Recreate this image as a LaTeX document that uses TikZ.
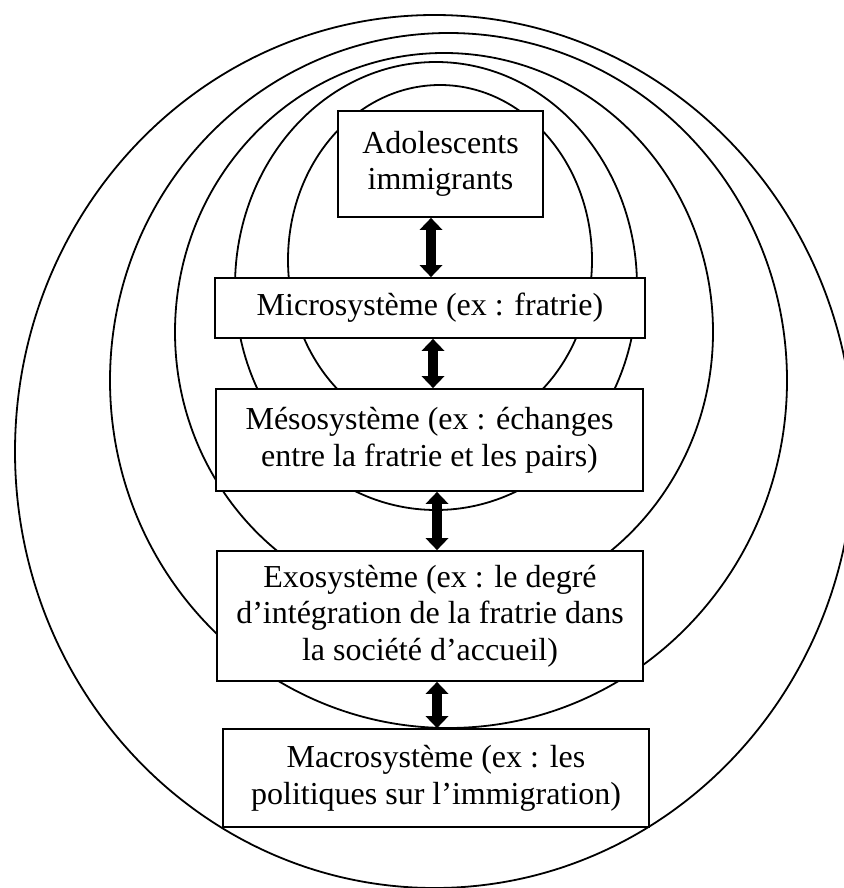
\documentclass[tikz,border=0pt]{standalone}
\usepackage{fontspec}
\setmainfont{Liberation Serif}
\usetikzlibrary{arrows.meta}
\begin{document}
\begin{tikzpicture}[x=0.75pt,y=-0.75pt,
    every node/.style={font=\fontsize{24}{27.5}\selectfont},
    ring/.style={line width=1.35pt},
    level/.style={draw,line width=1.35pt,fill=white,align=center,inner sep=0pt},
    twoway/.style={line width=8pt,
      {Triangle[width=17.25pt,length=9pt,line width=0pt]}-{Triangle[width=17.25pt,length=9pt,line width=0pt]}}]
  \useasboundingbox (0,0) rectangle (843,888);
  \draw[ring] (434.5,451.5) ellipse [x radius=419.5, y radius=436.5];
  \draw[ring] (448.5,380.5) ellipse [x radius=338.5, y radius=347.5];
  \draw[ring] (444,332) ellipse [x radius=269, y radius=279];
  \draw[ring] (436,286) ellipse [x radius=201, y radius=224];
  \draw[ring] (440,260) ellipse [x radius=152, y radius=175];
  \node[level,minimum width=153.75pt,minimum height=79.5pt] (ado) at (440.5,164)
    {Adolescents\\immigrants};
  \node[level,minimum width=322.5pt,minimum height=45pt] (micro) at (430,308)
    {Microsystème (ex : fratrie)};
  \node[level,minimum width=320.25pt,minimum height=76.5pt] (meso) at (429.5,440)
    {Mésosystème (ex : échanges\\entre la fratrie et les pairs)};
  \node[level,minimum width=319.5pt,minimum height=97.5pt] (exo) at (430,616)
    {Exosystème (ex : le degré\\d’intégration de la fratrie dans\\la société d’accueil)};
  \node[level,minimum width=319.5pt,minimum height=73.5pt] (macro) at (436,778)
    {Macrosystème (ex : les\\politiques sur l’immigration)};
  \draw[twoway] (ado.south -| 431,0) -- (micro.north -| 431,0);
  \draw[twoway] (micro.south -| 433,0) -- (meso.north -| 433,0);
  \draw[twoway] (meso.south -| 437,0) -- (exo.north -| 437,0);
  \draw[twoway] (exo.south -| 437,0) -- (macro.north -| 437,0);
\end{tikzpicture}
\end{document}
